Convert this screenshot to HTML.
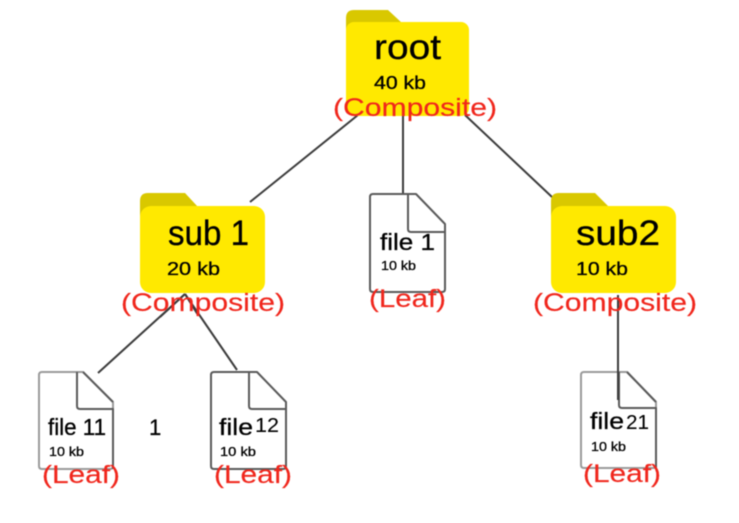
<!DOCTYPE html>
<html><head><meta charset="utf-8"><style>
html,body{margin:0;padding:0;background:#fff;width:739px;height:523px;overflow:hidden}
svg{display:block;filter:blur(.45px)}
text{font-family:"Liberation Sans",sans-serif;fill:#000;stroke:#000;stroke-width:.3px}
.r{fill:#f0261c;stroke:#f0261c;stroke-width:.15px;font-size:25px}
.l{stroke:#3c3c3c;stroke-width:2;fill:none}
.f{stroke:#5a5a5a;stroke-width:2;fill:#fff;stroke-linejoin:round}
.c{stroke:#5a5a5a;stroke-width:2;fill:none;stroke-linejoin:round}
.tab{fill:#d9c800}.body{fill:#ffe900}
</style></head><body>
<svg width="739" height="523" viewBox="0 0 739 523" xmlns="http://www.w3.org/2000/svg">
<!-- connectors -->
<path class="l" d="M358 115L250 202M403 110V194M465 115L552 197M185 294L98 373M185 294L237 370M618 295V400"/>
<!-- folders -->
<path class="tab" d="M346 30V18Q346 10 354 10H388L402 23V40H346Z"/>
<rect class="body" x="346" y="22" width="123" height="94" rx="8"/>
<path class="tab" d="M140 215V201Q140 193 148 193H185L198 207V220H140Z"/>
<rect class="body" x="140" y="206" width="125" height="87" rx="11"/>
<path class="tab" d="M551 215V201Q551 193 559 193H595L609 207V220H551Z"/>
<rect class="body" x="551" y="206" width="125" height="87" rx="11"/>
<!-- re-draw connector ends over folders -->
<path class="l" d="M185 294L160 317M185 294L198 315M618 295V320"/>
<!-- files -->
<path class="f" d="M370 197Q370 194 373 194H416L445 224V289Q445 292 442 292H373Q370 292 370 289Z"/>
<path class="c" d="M408 194V229Q408 232 411 232H445"/>
<path class="f" style="stroke:#9a9a9a" d="M39 375Q39 372 42 372H83L113 402V466Q113 469 110 469H42Q39 469 39 466Z"/>
<path class="c" d="M77 372V406Q77 409 80 409H113V469"/>
<path class="c" d="M83 372L113 402"/>
<path class="f" d="M211 375Q211 372 214 372H257L286 402V466Q286 469 283 469H214Q211 469 211 466Z"/>
<path class="c" d="M249 372V406Q249 409 252 409H286"/>
<path class="f" style="stroke:#9a9a9a" d="M581 375Q581 372 584 372H627L656 402V465Q656 468 653 468H584Q581 468 581 465Z"/>
<path class="c" d="M619 372V405Q619 408 622 408H656V468"/>
<path class="c" d="M627 372L656 402"/>
<path class="l" d="M618 360V400"/>
<!-- folder labels -->
<text x="374" y="59" font-size="35" textLength="67" lengthAdjust="spacingAndGlyphs">root</text>
<text x="374" y="89" font-size="18" textLength="52" lengthAdjust="spacingAndGlyphs">40 kb</text>
<text x="168" y="245" font-size="35" textLength="81" lengthAdjust="spacingAndGlyphs">sub 1</text>
<text x="167" y="275" font-size="18" textLength="53" lengthAdjust="spacingAndGlyphs">20 kb</text>
<text x="576" y="245" font-size="35" textLength="84" lengthAdjust="spacingAndGlyphs">sub2</text>
<text x="576" y="275" font-size="18" textLength="52" lengthAdjust="spacingAndGlyphs">10 kb</text>
<!-- file labels -->
<text x="380" y="250" font-size="23" textLength="55" lengthAdjust="spacingAndGlyphs">file 1</text>
<text x="381" y="270" font-size="13" textLength="35" lengthAdjust="spacingAndGlyphs">10 kb</text>
<text x="48" y="435" font-size="23" textLength="58" lengthAdjust="spacingAndGlyphs">file 11</text>
<text x="49" y="456" font-size="13" textLength="35" lengthAdjust="spacingAndGlyphs">10 kb</text>
<text x="149" y="435" font-size="22">1</text>
<text x="219" y="435" font-size="23" textLength="34" lengthAdjust="spacingAndGlyphs">file</text>
<text x="255" y="432" font-size="20" textLength="24" lengthAdjust="spacingAndGlyphs" style="stroke-width:.1px">12</text>
<text x="220" y="456" font-size="13" textLength="36" lengthAdjust="spacingAndGlyphs">10 kb</text>
<text x="590" y="429" font-size="23" textLength="34" lengthAdjust="spacingAndGlyphs">file</text>
<text x="626" y="429" font-size="20" textLength="23" lengthAdjust="spacingAndGlyphs" style="stroke-width:.1px">21</text>
<text x="591" y="451" font-size="13" textLength="35" lengthAdjust="spacingAndGlyphs">10 kb</text>
<!-- red labels -->
<text class="r" x="333" y="116" textLength="164" lengthAdjust="spacingAndGlyphs">(Composite)</text>
<text class="r" x="121" y="311" textLength="164" lengthAdjust="spacingAndGlyphs">(Composite)</text>
<text class="r" x="533" y="311" textLength="164" lengthAdjust="spacingAndGlyphs">(Composite)</text>
<text class="r" x="369" y="307" textLength="77" lengthAdjust="spacingAndGlyphs">(Leaf)</text>
<text class="r" x="42" y="483" textLength="78" lengthAdjust="spacingAndGlyphs">(Leaf)</text>
<text class="r" x="214" y="483" textLength="78" lengthAdjust="spacingAndGlyphs">(Leaf)</text>
<text class="r" x="583" y="482" textLength="78" lengthAdjust="spacingAndGlyphs">(Leaf)</text>
</svg>
</body></html>
